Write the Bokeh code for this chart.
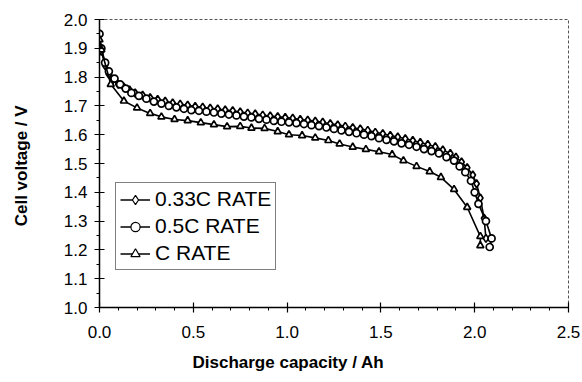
from bokeh.plotting import figure
from bokeh.models import Legend, LegendItem, FixedTicker, Range1d, CustomJSTickFormatter, Title
from bokeh.embed import file_html
from bokeh.resources import INLINE

# 0.33C RATE
cap_033 = [0, 0.01, 0.03, 0.05, 0.07, 0.10, 0.13, 0.16, 0.19, 0.23, 0.27, 0.31, 0.35, 0.39, 0.43, 0.47,
           0.51, 0.55, 0.59, 0.63, 0.67, 0.71, 0.75, 0.79, 0.83, 0.87, 0.91, 0.95, 0.99, 1.03, 1.07,
           1.11, 1.15, 1.19, 1.23, 1.27, 1.31, 1.35, 1.39, 1.43, 1.47, 1.51, 1.55, 1.59, 1.63, 1.67,
           1.71, 1.75, 1.79, 1.83, 1.87, 1.90, 1.93, 1.96, 1.99, 2.01, 2.03, 2.05, 2.06]
v_033 = [1.95, 1.89, 1.84, 1.81, 1.79, 1.775, 1.765, 1.755, 1.745, 1.737, 1.728, 1.722, 1.716, 1.71,
         1.706, 1.702, 1.698, 1.695, 1.692, 1.689, 1.686, 1.683, 1.679, 1.675, 1.672, 1.668, 1.665,
         1.662, 1.66, 1.657, 1.653, 1.65, 1.647, 1.643, 1.638, 1.634, 1.629, 1.624, 1.62, 1.615,
         1.608, 1.603, 1.597, 1.592, 1.586, 1.58, 1.573, 1.566, 1.558, 1.547, 1.535, 1.522, 1.505,
         1.485, 1.46, 1.43, 1.38, 1.31, 1.24]

# 0.5C RATE
cap_05 = [0, 0.01, 0.03, 0.05, 0.08, 0.11, 0.14, 0.17, 0.21, 0.25, 0.29, 0.33, 0.37, 0.41, 0.45, 0.49,
          0.53, 0.57, 0.61, 0.65, 0.69, 0.73, 0.77, 0.81, 0.85, 0.89, 0.93, 0.97, 1.01, 1.05, 1.09,
          1.13, 1.17, 1.21, 1.25, 1.29, 1.33, 1.37, 1.41, 1.45, 1.49, 1.53, 1.57, 1.61, 1.65, 1.69,
          1.73, 1.77, 1.81, 1.85, 1.89, 1.92, 1.95, 1.98, 2.00, 2.02, 2.06, 2.09, 2.08]
v_05 = [1.95, 1.90, 1.85, 1.82, 1.795, 1.775, 1.76, 1.745, 1.735, 1.725, 1.715, 1.708, 1.70, 1.695,
        1.69, 1.685, 1.683, 1.68, 1.677, 1.673, 1.67, 1.667, 1.663, 1.66, 1.655, 1.652, 1.648, 1.645,
        1.643, 1.64, 1.637, 1.633, 1.63, 1.625, 1.62, 1.615, 1.61, 1.605, 1.60, 1.595, 1.588, 1.582,
        1.577, 1.57, 1.565, 1.558, 1.55, 1.543, 1.535, 1.522, 1.51, 1.49, 1.47, 1.44, 1.40, 1.36,
        1.30, 1.24, 1.21]

# C RATE
cap_c = [0, 0.01, 0.06, 0.13, 0.20, 0.27, 0.33, 0.40, 0.47, 0.54, 0.61, 0.68, 0.75, 0.81, 0.88, 0.95,
         1.01, 1.08, 1.15, 1.22, 1.28, 1.35, 1.42, 1.49, 1.56, 1.62, 1.69, 1.76, 1.82, 1.89, 1.96,
         2.03, 2.03]
v_c = [1.93, 1.895, 1.775, 1.717, 1.693, 1.674, 1.662, 1.653, 1.649, 1.642, 1.635, 1.628, 1.629,
       1.623, 1.622, 1.611, 1.60, 1.597, 1.589, 1.58, 1.568, 1.557, 1.549, 1.541, 1.531, 1.51, 1.49,
       1.472, 1.452, 1.41, 1.348, 1.247, 1.215]

labels = ["0.33C RATE", "0.5C RATE", "C RATE"]
x_ticks = [0.0, 0.5, 1.0, 1.5, 2.0, 2.5]
y_ticks = [1.0, 1.1, 1.2, 1.3, 1.4, 1.5, 1.6, 1.7, 1.8, 1.9, 2.0]
x_title = "Discharge capacity  / Ah"
y_title = "Cell voltage  / V"

FONT = "Liberation Sans"

p = figure(width=582, height=382, output_backend="svg", toolbar_location=None,
           x_range=Range1d(0, 2.5), y_range=Range1d(1.0, 2.0),
           min_border_left=99, min_border_right=14, min_border_top=19, min_border_bottom=75)
p.xgrid.visible = False
p.ygrid.visible = False
p.outline_line_color = "#555555"
p.outline_line_dash = "3 2"
p.outline_line_width = 1

series = [
    (cap_033, v_033, "diamond", 8),
    (cap_05, v_05, "circle", 7),
    (cap_c, v_c, "triangle", 7),
]
items = []
for (xs, ys, mk, sz), lab in zip(series, labels):
    p.line(xs, ys, line_color="black", line_width=1.6)
    p.scatter(xs, ys, marker=mk, size=sz, fill_color="white", line_color="black", line_width=1.7)
    # legend-only renderers (a point outside the visible ranges)
    lr = p.line(x=[-9, -8], y=[-9, -9], line_color="black", line_width=1.5)
    sr = p.scatter(x=[-9], y=[-9], marker=mk, size=6, fill_color="white", line_color="black", line_width=1.2)
    items.append(LegendItem(label=lab, renderers=[lr, sr]))

legend = Legend(items=items, location=(16, 37))
legend.label_text_font = FONT
legend.label_text_font_size = "21px"
legend.label_text_color = "black"
legend.glyph_width = 30
legend.glyph_height = 23
legend.label_height = 23
legend.label_standoff = 5
legend.spacing = 3
legend.padding = 4
legend.margin = 0
legend.border_line_color = "black"
legend.border_line_width = 1
legend.background_fill_alpha = 1
p.add_layout(legend, "center")

for ax in (p.xaxis[0], p.yaxis[0]):
    ax.axis_line_color = "black"
    ax.axis_line_width = 1.5
    ax.major_tick_line_color = "black"
    ax.major_tick_line_width = 1.2
    ax.minor_tick_line_color = "black"
    ax.major_tick_in = 5
    ax.major_tick_out = 5
    ax.minor_tick_in = 0
    ax.minor_tick_out = 3
    ax.major_label_text_font = FONT
    ax.major_label_text_font_size = "17px"
    ax.major_label_text_color = "black"
    ax.axis_label_text_font = FONT
    ax.axis_label_text_font_style = "bold"
    ax.axis_label_text_font_size = "17px"
    ax.axis_label_text_color = "black"

p.xaxis.ticker = FixedTicker(ticks=x_ticks, minor_ticks=[0.1, 0.2, 0.3, 0.4, 0.6, 0.7, 0.8, 0.9, 1.1, 1.2, 1.3, 1.4,
                                                          1.6, 1.7, 1.8, 1.9, 2.1, 2.2, 2.3, 2.4])
p.yaxis.ticker = FixedTicker(ticks=y_ticks, minor_ticks=[1.05, 1.15, 1.25, 1.35, 1.45, 1.55, 1.65, 1.75, 1.85, 1.95])
p.xaxis.major_label_standoff = 13
p.yaxis.major_label_standoff = 7
p.yaxis.axis_label = y_title
p.yaxis.axis_label_standoff = 30
p.xaxis.formatter = CustomJSTickFormatter(code="return tick.toFixed(1);")
p.yaxis.formatter = CustomJSTickFormatter(code="return tick.toFixed(1);")

# x-axis title, left-shifted like the original (centred under 1.0 Ah)
p.add_layout(Title(text=x_title, align="left", offset=93, standoff=20,
                   text_font=FONT, text_font_style="bold", text_font_size="17px",
                   text_color="black"), "below")

open("out.html", "w").write(file_html(p, INLINE))
